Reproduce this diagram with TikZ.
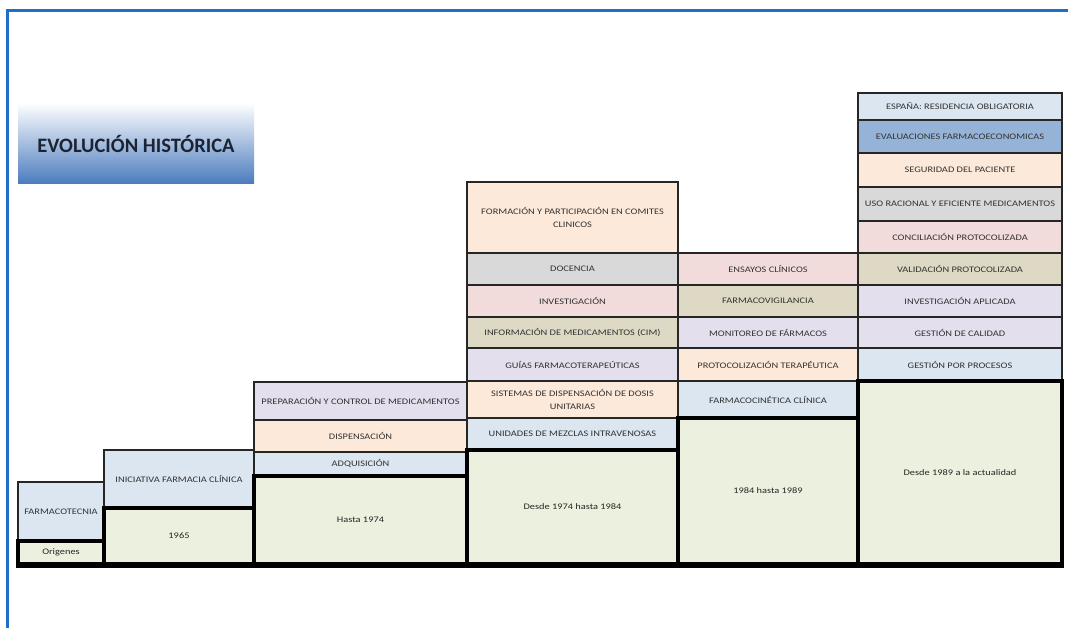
\documentclass[tikz,border=0pt]{standalone}
\usepackage{fontspec}
\setmainfont{Carlito}
\newfontfamily\cellfont[FakeStretch=1.22]{Carlito}
\definecolor{cgreen}{HTML}{EBF1DE}
\definecolor{cblue}{HTML}{DCE6F1}
\definecolor{cpeach}{HTML}{FDE9D9}
\definecolor{clav}{HTML}{E4DFEC}
\definecolor{cgray}{HTML}{D9D9D9}
\definecolor{cpink}{HTML}{F2DCDB}
\definecolor{ctan}{HTML}{DDD9C4}
\definecolor{cmblue}{HTML}{95B3D7}
\definecolor{frameblue}{HTML}{1F6FC8}
\definecolor{titleblue}{HTML}{4A7BBE}
\definecolor{titletext}{HTML}{1C2333}
\definecolor{celltext}{HTML}{333333}
\definecolor{cellline}{HTML}{262626}
\tikzset{
  cellbox/.style={draw=cellline, line width=1.4pt, inner sep=1pt, align=center,
    text=celltext, font=\cellfont\fontsize{8.5}{13}\selectfont},
  datebox/.style={draw=black, line width=3.6pt, fill=cgreen, inner sep=1pt, align=center,
    text=black!85, font=\cellfont\fontsize{8.5}{13}\selectfont},
  titlebox/.style={top color=white, bottom color=titleblue, inner sep=0pt,
    text=titletext, font=\bfseries\fontsize{20.5}{24}\selectfont},
  framel/.style={draw=frameblue, line width=3pt},
  baseline/.style={draw=black, line width=4.5pt}
}
\newcommand\cell[7]{\node[cellbox, fill=#6, minimum width={(#4-#2)*1pt}, minimum height={(#5-#3)*1pt}] (#1) at ({(#2+#4)/2},{(#3+#5)/2}) {#7};}
\newcommand\dcell[6]{\node[datebox, minimum width={(#4-#2)*1pt}, minimum height={(#5-#3)*1pt}] (#1) at ({(#2+#4)/2},{(#3+#5)/2}) {#6};}
\begin{document}
\begin{tikzpicture}[x=1pt, y=-1pt]
\useasboundingbox (0,0) rectangle (1068,628);
\fill[white] (0,0) rectangle (1068,628);
% frame
\coordinate (fa) at (7,628);
\coordinate (fb) at (7,11);
\coordinate (fc) at (1068,11);
\draw[framel] (fa) -- (fb) -- (fc);
% title
\node[titlebox, minimum width=236pt, minimum height=81pt] (title) at (136,143.5) {EVOLUCIÓN HISTÓRICA};
% column 1
\cell{c1a}{18}{482}{104}{541}{cblue}{FARMACOTECNIA}
% column 2
\cell{c2a}{104}{450}{254}{508}{cblue}{INICIATIVA FARMACIA CLÍNICA}
% column 3
\cell{c3a}{254}{382}{467}{420}{clav}{PREPARACIÓN Y CONTROL DE MEDICAMENTOS}
\cell{c3b}{254}{420}{467}{452}{cpeach}{DISPENSACIÓN}
\cell{c3c}{254}{452}{467}{476}{cblue}{ADQUISICIÓN}
% column 4
\cell{c4a}{467}{182}{678}{253}{cpeach}{FORMACIÓN Y PARTICIPACIÓN EN COMITES\\CLINICOS}
\cell{c4b}{467}{253}{678}{285}{cgray}{DOCENCIA}
\cell{c4c}{467}{285}{678}{317}{cpink}{INVESTIGACIÓN}
\cell{c4d}{467}{317}{678}{348}{ctan}{INFORMACIÓN DE MEDICAMENTOS (CIM)}
\cell{c4e}{467}{348}{678}{381}{clav}{GUÍAS FARMACOTERAPEÚTICAS}
\cell{c4f}{467}{381}{678}{418}{cpeach}{SISTEMAS DE DISPENSACIÓN DE DOSIS\\UNITARIAS}
\cell{c4g}{467}{418}{678}{450}{cblue}{UNIDADES DE MEZCLAS INTRAVENOSAS}
% column 5
\cell{c5a}{678}{253}{858}{285}{cpink}{ENSAYOS CLÍNICOS}
\cell{c5b}{678}{285}{858}{317}{ctan}{FARMACOVIGILANCIA}
\cell{c5c}{678}{317}{858}{348}{clav}{MONITOREO DE FÁRMACOS}
\cell{c5d}{678}{348}{858}{381}{cpeach}{PROTOCOLIZACIÓN TERAPÉUTICA}
\cell{c5e}{678}{381}{858}{418}{cblue}{FARMACOCINÉTICA CLÍNICA}
% column 6
\cell{c6a}{858}{93}{1062}{120}{cblue}{ESPAÑA: RESIDENCIA OBLIGATORIA}
\cell{c6b}{858}{120}{1062}{153}{cmblue}{EVALUACIONES FARMACOECONOMICAS}
\cell{c6c}{858}{153}{1062}{187}{cpeach}{SEGURIDAD DEL PACIENTE}
\cell{c6d}{858}{187}{1062}{221}{cgray}{USO RACIONAL Y EFICIENTE MEDICAMENTOS}
\cell{c6e}{858}{221}{1062}{253}{cpink}{CONCILIACIÓN PROTOCOLIZADA}
\cell{c6f}{858}{253}{1062}{285}{ctan}{VALIDACIÓN PROTOCOLIZADA}
\cell{c6g}{858}{285}{1062}{317}{clav}{INVESTIGACIÓN APLICADA}
\cell{c6h}{858}{317}{1062}{348}{clav}{GESTIÓN DE CALIDAD}
\cell{c6i}{858}{348}{1062}{381}{cblue}{GESTIÓN POR PROCESOS}
% date boxes
\dcell{d1}{18}{541}{104}{564}{Origenes}
\dcell{d2}{104}{508}{254}{564}{1965}
\dcell{d3}{254}{476}{467}{564}{Hasta 1974}
\dcell{d4}{467}{450}{678}{564}{Desde 1974 hasta 1984}
\dcell{d5}{678}{418}{858}{564}{1984 hasta 1989}
\dcell{d6}{858}{381}{1062}{564}{Desde 1989 a la actualidad}
\draw[baseline] (d1.south west) -- (d6.south east);
\end{tikzpicture}
\end{document}
